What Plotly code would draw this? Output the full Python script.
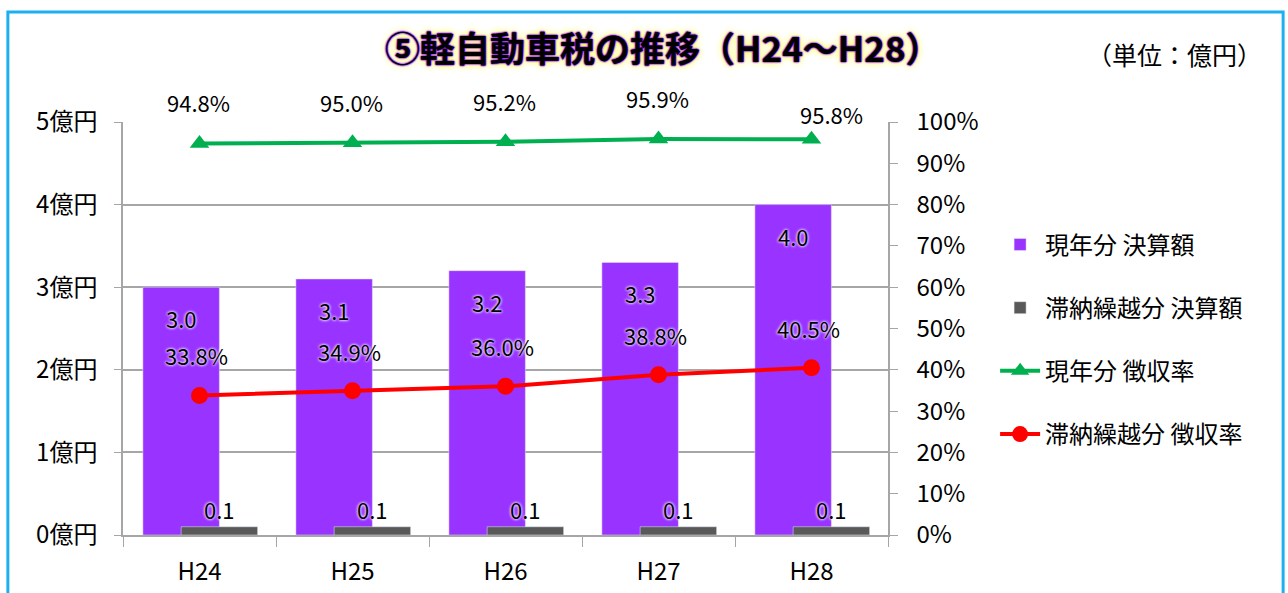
import plotly.graph_objects as go

categories = ["H24", "H25", "H26", "H27", "H28"]
current_amount = [3.0, 3.1, 3.2, 3.3, 4.0]
arrears_amount = [0.1, 0.1, 0.1, 0.1, 0.1]
current_rate = [0.948, 0.950, 0.952, 0.959, 0.958]
arrears_rate = [0.338, 0.349, 0.360, 0.388, 0.405]
left_ticks = [0, 1, 2, 3, 4, 5]
left_ticklabels = ["0億円", "1億円", "2億円", "3億円", "4億円", "5億円"]
title_text = "⑤軽自動車税の推移（H24～H28）"
unit_text = "（単位：億円）"
legend_names = ["現年分 決算額", "滞納繰越分 決算額", "現年分 徴収率", "滞納繰越分 徴収率"]

FONT = "Noto Sans CJK JP"
PURPLE = "#9933FF"
GRAY = "#595959"
GREEN = "#00B050"
RED = "#FF0000"
GRID = "#A6A6A6"

fig = go.Figure()
fig.add_trace(go.Bar(x=categories, y=current_amount, name=legend_names[0],
                     marker_color=PURPLE, width=0.5, offset=-0.37,
                     legendgroup="a", hoverinfo="skip"))
fig.add_trace(go.Bar(x=categories, y=arrears_amount, name=legend_names[1],
                     marker_color=GRAY, width=0.5, offset=-0.12,
                     legendgroup="b", hoverinfo="skip"))
fig.add_trace(go.Scatter(x=categories, y=current_rate, name=legend_names[2], yaxis="y2",
                         mode="lines+markers", line=dict(color=GREEN, width=4),
                         marker=dict(symbol="triangle-up", size=17, color=GREEN),
                         legendgroup="c"))
fig.add_trace(go.Scatter(x=categories, y=arrears_rate, name=legend_names[3], yaxis="y2",
                         mode="lines+markers", line=dict(color=RED, width=4),
                         marker=dict(symbol="circle", size=17, color=RED),
                         legendgroup="d"))

ann = []
glow = "0px 0px 3px white, 0px 0px 3px white"
lab_font = dict(family=FONT, size=22, color="black", shadow=glow)
for i, c in enumerate(categories):
    ann.append(dict(x=c, y=current_amount[i], xref="x", yref="y", text=f"{current_amount[i]:.1f}",
                    showarrow=False, xshift=-18, yshift=-31, font=lab_font))
    ann.append(dict(x=c, y=arrears_amount[i], xref="x", yref="y", text=f"{arrears_amount[i]:.1f}",
                    showarrow=False, xshift=20, yshift=18, font=lab_font))
    ann.append(dict(x=c, y=current_rate[i], xref="x", yref="y2", text=f"{current_rate[i]*100:.1f}%",
                    showarrow=False, xshift=(20 if i == 4 else -1),
                    yshift=(25 if i == 4 else 41), font=lab_font))
    ann.append(dict(x=c, y=arrears_rate[i], xref="x", yref="y2", text=f"{arrears_rate[i]*100:.1f}%",
                    showarrow=False, xshift=-3, yshift=40, font=lab_font))

ann.append(dict(x=0.706, y=1.182, xref="paper", yref="paper", text=f"<b>{title_text}</b>",
                showarrow=False, xanchor="center", yanchor="middle",
                font=dict(family=FONT, size=35, color="black",
                          shadow="0px 0px 1px #8000FF, 0px 0px 2px #8000FF, 0px 0px 2px #8000FF, 0px 0px 6px #FFFF66, 0px 0px 7px #FFFF66")))
ann.append(dict(x=1.375, y=1.165, xref="paper", yref="paper", text=unit_text,
                showarrow=False, xanchor="center", yanchor="middle",
                font=dict(family=FONT, size=25, color="black")))

fig.update_layout(
    width=1288, height=593,
    margin=dict(l=123, r=400, t=122, b=58, autoexpand=False),
    paper_bgcolor="white", plot_bgcolor="white",
    font=dict(family=FONT, size=24, color="black"),
    barmode="overlay",
    showlegend=True,
    legend=dict(x=1.14, y=0.757, xanchor="left", yanchor="top",
                font=dict(family=FONT, size=24, color="black"),
                tracegroupgap=29, traceorder="grouped", itemwidth=40,
                bgcolor="rgba(0,0,0,0)"),
    xaxis=dict(type="category", showline=True, linecolor=GRID, linewidth=1.5,
               ticks="outside", tickson="boundaries", ticklen=10, tickcolor=GRID,
               tickfont=dict(family=FONT, size=24), ticklabelstandoff=14,
               showgrid=False, range=[-0.5, 4.5], automargin=False),
    yaxis=dict(range=[0, 5], tickvals=left_ticks, ticktext=left_ticklabels,
               showline=True, linecolor=GRID, linewidth=1.5,
               ticks="outside", ticklen=7, tickcolor=GRID,
               showgrid=True, gridcolor=GRID, gridwidth=1.5, automargin=False,
               tickfont=dict(family=FONT, size=24), ticklabelstandoff=12, zeroline=False),
    yaxis2=dict(range=[0, 1], dtick=0.1, tickformat=".0%", overlaying="y", side="right",
                showline=True, linecolor=GRID, linewidth=1.5, automargin=False,
                ticks="outside", ticklen=8, tickcolor=GRID, showgrid=False, zeroline=False,
                tickfont=dict(family=FONT, size=24), ticklabelstandoff=14),
    annotations=ann,
    shapes=[dict(type="rect", xref="paper", yref="paper",
                 x0=-0.1505, x1=1.5165, y0=-0.3, y1=1.2665,
                 line=dict(color="#1CB0EE", width=3), fillcolor="rgba(0,0,0,0)",
                 layer="below")],
)

fig.write_html("out.html", config={"displayModeBar": False},
               post_script="document.body.style.margin='0px';")
